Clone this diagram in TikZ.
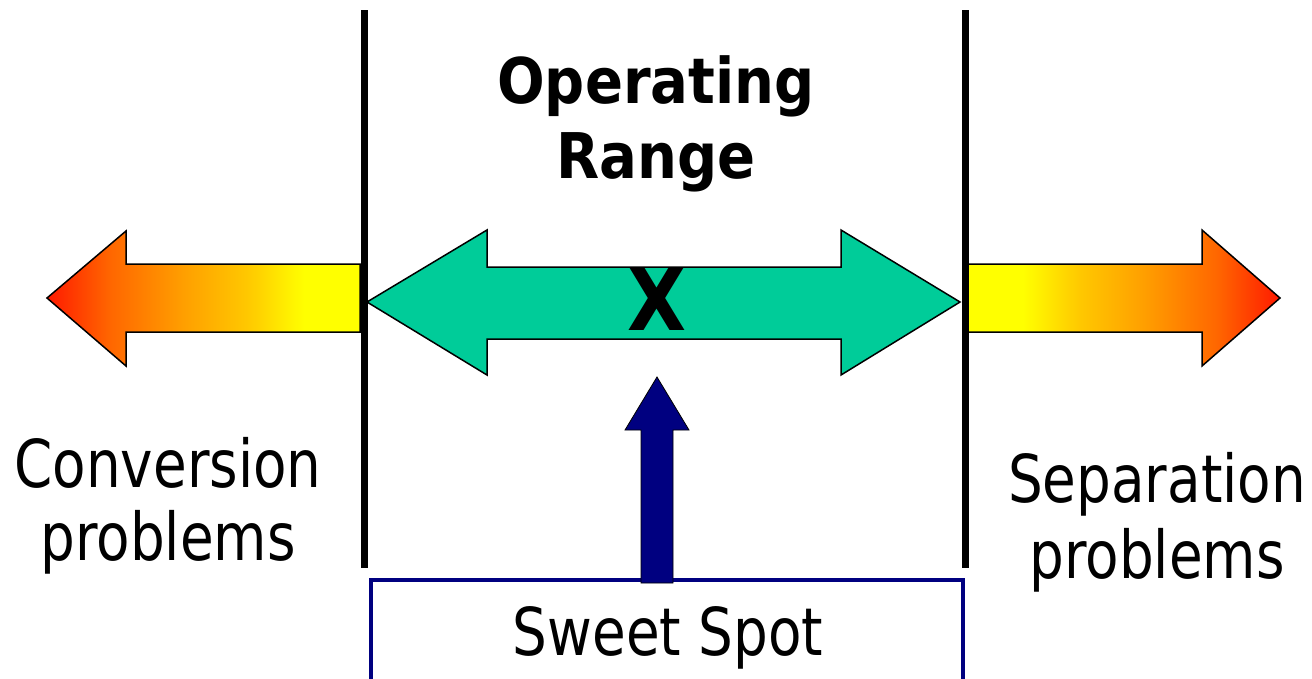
\documentclass[tikz,border=0pt]{standalone}
\usepackage{fontspec}
\setmainfont{DejaVu Sans}
\newfontfamily\regf{DejaVu Sans}[FakeStretch=0.83]
\newfontfamily\bldf{DejaVu Sans}[FakeStretch=0.89]
\definecolor{greenarrow}{HTML}{00CC99}
\definecolor{navyb}{HTML}{000080}
\definecolor{wA}{HTML}{FF1A00}
\definecolor{wB}{HTML}{FF6600}
\definecolor{wC}{HTML}{FFA000}
\definecolor{wD}{HTML}{FFC800}
\definecolor{wE}{HTML}{FFFF00}
\pgfdeclarehorizontalshading{warmL}{100bp}{color(0bp)=(wA); color(25bp)=(wA); color(35bp)=(wB); color(47bp)=(wC); color(57bp)=(wD); color(66bp)=(wE); color(100bp)=(wE)}
\pgfdeclarehorizontalshading{warmR}{100bp}{color(0bp)=(wE); color(34bp)=(wE); color(43bp)=(wD); color(53bp)=(wC); color(65bp)=(wB); color(75bp)=(wA); color(100bp)=(wA)}
\tikzset{
  outl/.style={draw=black, line width=1.5pt, line join=miter},
  divider/.style={line width=7pt, black},
  regtext/.style={font=\regf\fontsize{66}{75}\selectfont, anchor=base, inner sep=0pt},
  boldtext/.style={font=\bldf\bfseries\fontsize{63}{75}\selectfont, anchor=base, inner sep=0pt},
}
\begin{document}
\begin{tikzpicture}[x=1pt,y=-1pt]
\useasboundingbox (0,0) rectangle (1312,678);
\clip (0,0) rectangle (1312,678);
% Sweet spot box
\draw[navyb, line width=3.5pt] (371,580) rectangle (963,700);
\node[regtext] (sweet) at (668,655) {Sweet Spot};
% orange arrows
\shade[shading=warmL, outl] (360,264) -- (126,264) -- (126,231) -- (47,298) -- (126,366) -- (126,332) -- (360,332) -- cycle;
\shade[shading=warmR, outl] (967,264) -- (1202,264) -- (1202,230) -- (1280,298) -- (1202,366) -- (1202,332) -- (967,332) -- cycle;
% green double arrow
\filldraw[fill=greenarrow, outl] (367,302) -- (487,230) -- (487,267) -- (841,267) -- (841,230) -- (960,302) -- (841,375) -- (841,339) -- (487,339) -- (487,375) -- cycle;
\node[font=\bldf\bfseries\fontsize{86}{90}\selectfont, anchor=base, inner sep=0pt] (x) at (657,330) {X};
% blue arrow
\filldraw[fill=navyb, draw=black, line width=0.8pt] (657,377) -- (689,430) -- (673,430) -- (673,583) -- (641,583) -- (641,430) -- (625,430) -- cycle;
% dividers
\draw[divider] (364,10) -- (364,568);
\draw[divider] (965,10) -- (965,568);
% texts
\node[boldtext] (op) at (656,103) {Operating};
\node[boldtext] (rg) at (656,178) {Range};
\node[regtext] (conv1) at (168,487) {Conversion};
\node[regtext] (conv2) at (168,560) {problems};
\node[regtext] (sep1) at (1157,502) {Separation};
\node[regtext] (sep2) at (1157,578) {problems};
\end{tikzpicture}
\end{document}
